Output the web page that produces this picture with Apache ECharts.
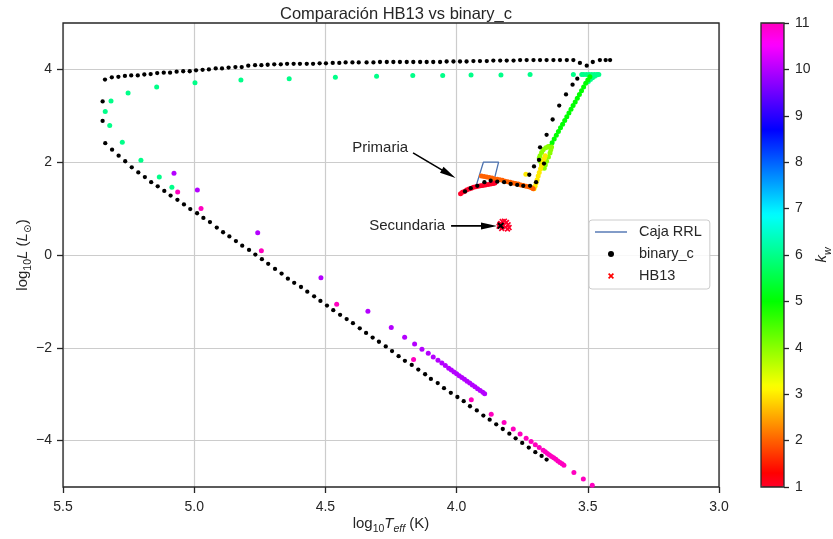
<!DOCTYPE html>
<html><head><meta charset="utf-8">
<script src="https://cdn.jsdelivr.net/npm/echarts@6/dist/echarts.min.js"></script>
<style>html,body{margin:0;padding:0;background:#fff}#c{width:833px;height:539px}</style>
</head><body><div id="c"></div>
<script>
// ---------- data ----------
const xTicks = [5.5, 5.0, 4.5, 4.0, 3.5, 3.0];
const yTicks = [-4, -2, 0, 2, 4];
const kwTicks = [1, 2, 3, 4, 5, 6, 7, 8, 9, 10, 11];

const rrlBox = [[3.925, 1.5], [3.862, 1.5], [3.840, 2.0], [3.898, 2.0], [3.925, 1.5]];

const binaryC = [
  [3.968,1.37],[3.946,1.44],[3.921,1.49],[3.894,1.57],[3.870,1.60],[3.845,1.58],[3.819,1.57],[3.794,1.53],[3.769,1.51],[3.746,1.49],[3.720,1.49],
  [3.697,1.57],[3.723,1.73],[3.705,1.91],[3.686,2.05],[3.667,1.97],[3.682,2.32],[3.657,2.59],[3.634,2.92],[3.609,3.22],[3.583,3.46],[3.558,3.67],[3.540,3.80],[3.530,4.14],[3.504,4.08],[3.481,4.16],[3.454,4.20],[3.432,4.20],[3.415,4.20],
  [3.555,4.20],[3.580,4.20],[3.606,4.20],[3.631,4.20],[3.657,4.20],[3.682,4.20],[3.707,4.20],[3.733,4.20],[3.758,4.20],[3.783,4.19],[3.809,4.19],[3.834,4.19],[3.860,4.19],[3.885,4.18],[3.911,4.18],[3.936,4.18],[3.962,4.17],[3.987,4.17],[4.012,4.17],[4.038,4.17],[4.063,4.16],[4.089,4.16],[4.114,4.16],[4.139,4.16],[4.165,4.16],[4.190,4.16],[4.216,4.16],[4.241,4.16],[4.266,4.16],[4.292,4.16],[4.317,4.15],[4.343,4.15],[4.373,4.15],[4.397,4.15],[4.423,4.15],[4.447,4.14],[4.472,4.14],[4.498,4.13],[4.522,4.13],[4.547,4.12],[4.571,4.12],[4.597,4.12],[4.621,4.12],[4.646,4.12],[4.670,4.11],[4.695,4.11],[4.720,4.10],[4.744,4.09],[4.768,4.09],[4.794,4.08],[4.819,4.05],[4.843,4.05],[4.869,4.04],[4.894,4.02],[4.918,4.02],[4.944,4.00],[4.968,3.99],[4.993,3.98],[5.017,3.96],[5.042,3.96],[5.067,3.95],[5.092,3.93],[5.116,3.93],[5.141,3.92],[5.166,3.90],[5.190,3.89],[5.215,3.87],[5.240,3.87],[5.264,3.86],[5.289,3.84],[5.314,3.83],[5.340,3.78],
  [5.349,3.31],[5.349,2.89],[5.339,2.41],[5.313,2.27],[5.288,2.14],[5.263,2.02],[5.238,1.89],[5.213,1.78],[5.188,1.68],[5.164,1.57],[5.139,1.48],[5.114,1.38],[5.090,1.28],[5.064,1.19],[5.039,1.09],[5.015,0.99],[4.989,0.90],[4.965,0.80],[4.940,0.71],[4.914,0.59],[4.890,0.49],[4.866,0.40],[4.841,0.30],[4.817,0.20],[4.791,0.11],[4.767,0.01],[4.742,-0.09],[4.718,-0.19],[4.692,-0.30],[4.667,-0.40],[4.643,-0.51],[4.619,-0.60],[4.593,-0.69],[4.569,-0.79],[4.543,-0.89],[4.519,-0.99],[4.494,-1.09],[4.470,-1.19],[4.444,-1.29],[4.419,-1.38],[4.395,-1.47],[4.369,-1.58],[4.345,-1.68],[4.320,-1.78],[4.296,-1.87],[4.270,-1.97],[4.246,-2.07],[4.221,-2.18],[4.197,-2.28],[4.171,-2.37],[4.146,-2.47],[4.120,-2.57],[4.098,-2.67],[4.072,-2.76],[4.048,-2.87],[4.022,-2.97],[3.997,-3.06],[3.973,-3.15],[3.949,-3.26],[3.923,-3.35],[3.898,-3.46],[3.874,-3.55],[3.849,-3.65],[3.824,-3.75],[3.799,-3.85],[3.775,-3.95],[3.750,-4.05],[3.725,-4.15],[3.700,-4.25],[3.676,-4.33],[3.657,-4.41]
];
const binaryCSecondary = [[3.832, 0.63]];

// HB13 tracks grouped by stellar type k_w
const hb13Kw1 = [[3.985,1.32],[3.978,1.35],[3.970,1.37],[3.962,1.40],[3.953,1.42],[3.944,1.44],[3.936,1.46],[3.927,1.47],[3.918,1.48],[3.909,1.49],[3.900,1.50],[3.890,1.51],[3.880,1.52],[3.870,1.53],[3.860,1.54],[3.854,1.55]];
const hb13Kw1Secondary = [[3.838,0.62],[3.832,0.68],[3.826,0.72],[3.818,0.73],[3.810,0.70],[3.804,0.65],[3.800,0.59],[3.806,0.56],[3.814,0.60],[3.822,0.64],[3.828,0.57],[3.835,0.66]];
const hb13Kw2 = [[3.905,1.70],[3.895,1.69],[3.885,1.68],[3.875,1.67],[3.865,1.66],[3.855,1.64],[3.845,1.63],[3.835,1.62],[3.825,1.61],[3.815,1.59],[3.805,1.58],[3.795,1.57],[3.785,1.55],[3.775,1.54],[3.765,1.53],[3.755,1.51],[3.745,1.50],[3.735,1.48],[3.725,1.47],[3.715,1.45],[3.708,1.43]];
const hb13Kw3 = [[3.705,1.43],[3.701,1.48],[3.697,1.55],[3.693,1.62],[3.689,1.70],[3.685,1.78],[3.680,1.86],[3.676,1.93],[3.671,2.00],[3.666,2.08],[3.662,2.14],[3.736,1.74]];
const hb13Kw4 = [[3.682,2.14],[3.676,2.21],[3.670,2.27],[3.660,2.31],[3.651,2.34],[3.638,2.33],[3.641,2.27],[3.644,2.20],[3.650,2.11],[3.657,2.02],[3.662,1.94],[3.666,1.87],[3.671,1.90],[3.676,1.94],[3.681,2.02],[3.685,2.09]];
const hb13Kw5 = [[3.644,2.34],[3.636,2.42],[3.628,2.50],[3.620,2.58],[3.612,2.66],[3.604,2.74],[3.596,2.82],[3.588,2.90],[3.580,2.98],[3.572,3.06],[3.564,3.14],[3.556,3.22],[3.548,3.30],[3.540,3.38],[3.532,3.46],[3.524,3.54],[3.516,3.62],[3.508,3.70],[3.500,3.77],[3.492,3.84]];
const hb13Kw6 = [[3.498,3.74],[3.490,3.78],[3.482,3.82],[3.474,3.85],[3.466,3.88],[3.458,3.89],[3.465,3.89],[3.475,3.89],[3.485,3.89],[3.495,3.89],[3.505,3.89],[3.515,3.89],[3.523,3.89],[3.555,3.89],[3.720,3.89],[3.831,3.88],[3.945,3.88],[4.053,3.87],[4.167,3.87],[4.305,3.85],[4.462,3.83],[4.638,3.80],[4.822,3.77],[4.997,3.71],[5.143,3.62],[5.252,3.49],[5.317,3.32],[5.339,3.09],[5.322,2.79],[5.274,2.43],[5.203,2.04],[5.133,1.68],[5.085,1.46]];
const hb13Kw10 = [[5.077,1.76],[4.988,1.40],[4.758,0.48],[4.517,-0.49],[4.338,-1.21],[4.249,-1.56],[4.198,-1.77],[4.160,-1.92],[4.132,-2.03],[4.108,-2.12],[4.089,-2.20],[4.071,-2.27],[4.056,-2.33],[4.043,-2.38],[4.030,-2.44],[4.020,-2.48],[4.010,-2.52],[4.000,-2.56],[3.990,-2.60],[3.980,-2.64],[3.970,-2.68],[3.960,-2.72],[3.950,-2.76],[3.940,-2.80],[3.930,-2.84],[3.920,-2.88],[3.910,-2.92],[3.900,-2.96],[3.893,-2.99]];
const hb13Kw11 = [[5.063,1.36],[4.974,1.00],[4.744,0.09],[4.457,-1.06],[4.164,-2.25],[3.944,-3.12],[3.868,-3.43],[3.819,-3.61],[3.784,-3.75],[3.758,-3.86],[3.735,-3.95],[3.716,-4.02],[3.700,-4.09],[3.685,-4.15],[3.670,-4.21],[3.662,-4.24],[3.654,-4.28],[3.646,-4.31],[3.638,-4.34],[3.630,-4.37],[3.622,-4.40],[3.614,-4.44],[3.606,-4.47],[3.598,-4.50],[3.591,-4.53],[3.553,-4.69],[3.517,-4.83],[3.483,-4.96]];

// annotations (data coords)
const annLabels = ['Primaria', 'Secundaria'];
const annTip = [[4.004, 1.66], [3.846, 0.627]];
const annTail = [[4.166, 2.20], [4.021, 0.627]];
const annTextPos = [[4.185, 2.31], [4.044, 0.63]];

// ---------- styling helpers ----------
const FF = '"Liberation Sans", Arial, "DejaVu Sans", sans-serif';
const TC = '#262626';
const XPATH = 'path://M0,2L2,0L5,3L8,0L10,2L7,5L10,8L8,10L5,7L2,10L0,8L3,5Z';
const LINEPATH = 'path://M0,0L32,0L32,1.4L0,1.4Z';

const gistStops = [[0,[1,0,0.16]],[0.03,[1,0,0]],[0.215,[1,1,0]],[0.4,[0,1,0]],[0.586,[0,1,1]],[0.77,[0,0,1]],[0.954,[1,0,1]],[1,[1,0,0.75]]];
function gist(t){
  for (let i=1;i<gistStops.length;i++){
    const [t1,c1]=gistStops[i], [t0,c0]=gistStops[i-1];
    if (t<=t1){ const f=(t-t0)/(t1-t0||1); const c=c0.map((v,k)=>Math.round(255*(v+(c1[k]-v)*f))); return 'rgb('+c.join(',')+')'; }
  }
  return 'rgb(255,0,191)';
}
const vmColors = Array.from({length:201},(_,i)=>gist(i/200));

const withKw = (arr, kw) => arr.map(p => [p[0], p[1], kw]);
const hb13Main = [].concat(withKw(hb13Kw6,6), withKw(hb13Kw10,10), withKw(hb13Kw11,11), withKw(hb13Kw5,5), withKw(hb13Kw4,4), withKw(hb13Kw3,3), withKw(hb13Kw2,2), withKw(hb13Kw1,1));
const hb13Data = hb13Main.map(v => ({value: v})).concat(withKw(hb13Kw1Secondary,1).map(v => ({value: v, symbol: XPATH, symbolSize: 6})));
const binaryData = binaryC.map(v => ({value: v})).concat(binaryCSecondary.map(v => ({value: v, symbol: XPATH, symbolSize: 7})));

const subStyle = (italic) => ({fontSize: 10.5, fontFamily: FF, color: TC, fontStyle: italic ? 'italic' : 'normal', lineHeight: 10, padding: [8,0,0,0], verticalAlign: 'top'});
const mainStyle = (italic) => ({fontSize: 15, fontFamily: FF, color: TC, fontStyle: italic ? 'italic' : 'normal', lineHeight: 16, verticalAlign: 'top'});
const richName = { r: mainStyle(false), i: mainStyle(true), s: subStyle(false), is: subStyle(true) };
const minus = v => (v < 0 ? '\u2212' + Math.abs(v) : String(v));

const chart = echarts.init(document.getElementById('c'), null, {renderer: 'canvas'});
chart.setOption({
  animation: false,
  backgroundColor: '#fff',
  title: {text: 'Comparación HB13 vs binary_c', left: 391, top: 1, textAlign: 'center',
    textStyle: {fontSize: 16.5, fontWeight: 'normal', color: TC, fontFamily: FF}},
  grid: [
    {left: 63, top: 23, width: 656, height: 464, show: true, borderColor: TC, borderWidth: 1.3, backgroundColor: 'transparent', z: 3, containLabel: false, outerBoundsMode: 'none'},
    {left: 761, top: 23, width: 23, height: 464, show: true, borderColor: TC, borderWidth: 1.3, backgroundColor: 'transparent', z: 10, containLabel: false, outerBoundsMode: 'none'}
  ],
  xAxis: [
    {type: 'value', gridIndex: 0, min: 3.0, max: 5.5, interval: 0.5, inverse: true,
     axisLine: {show: false, onZero: false}, axisTick: {show: true, length: 6, lineStyle: {color: TC, width: 1.3}},
     axisLabel: {color: TC, fontSize: 14, fontFamily: FF, margin: 13, formatter: v => v.toFixed(1)},
     splitLine: {show: true, lineStyle: {color: '#cccccc', width: 1.2}},
     name: '{r|log}{s|10}{i|T}{is|eff}{r| (K)}', nameLocation: 'middle', nameGap: 29, nameMoveOverlap: false,
     nameTextStyle: {rich: richName}},
    {type: 'value', gridIndex: 1, min: 0, max: 1, show: false}
  ],
  yAxis: [
    {type: 'value', gridIndex: 0, min: -5, max: 5, interval: 1,
     axisLine: {show: false, onZero: false}, axisTick: {show: true, length: 6, customValues: yTicks, lineStyle: {color: TC, width: 1.3}},
     axisLabel: {color: TC, fontSize: 14, fontFamily: FF, margin: 11, customValues: yTicks, formatter: minus},
     splitLine: {show: true, lineStyle: {color: '#cccccc', width: 1.2}},
     name: '{r|log}{s|10}{i|L}{r| (}{i|L}{s|\u2299}{r|)}', nameLocation: 'middle', nameGap: 32, nameRotate: 90, nameMoveOverlap: false,
     nameTextStyle: {rich: richName}},
    {type: 'value', gridIndex: 1, min: 1, max: 11, interval: 1, position: 'right', z: 10,
     axisLine: {show: false, onZero: false}, axisTick: {show: true, length: 5, lineStyle: {color: TC, width: 1.3}},
     axisLabel: {color: TC, fontSize: 14, fontFamily: FF, margin: 11},
     splitLine: {show: false},
     name: '{i|k}{is|w}', nameLocation: 'middle', nameGap: 30, nameRotate: 90,
     nameTextStyle: {rich: richName}}
  ],
  visualMap: {type: 'continuous', min: 1, max: 11, dimension: 2, seriesIndex: 1,
    inRange: {color: vmColors}, left: 761, top: 23, itemWidth: 23, itemHeight: 464,
    padding: 0, calculable: false, hoverLink: false, text: null, show: true, z: 4},
  legend: {orient: 'vertical', left: 589, top: 220, padding: [4, 8, 5, 6], itemWidth: 32, itemHeight: 6, itemGap: 6,
    backgroundColor: 'rgba(255,255,255,0.85)', borderColor: '#cccccc', borderWidth: 1, borderRadius: 3,
    textStyle: {fontSize: 14.5, color: TC, fontFamily: FF, lineHeight: 16, padding: [0, 0, 0, 7]},
    data: [{name: 'Caja RRL', icon: LINEPATH}, {name: 'binary_c', icon: 'circle'}, {name: 'HB13', icon: XPATH}]},
  series: [
    {name: 'Caja RRL', type: 'line', xAxisIndex: 0, yAxisIndex: 0, data: rrlBox, symbol: 'none',
     lineStyle: {color: '#4c72b0', width: 1.3}, itemStyle: {color: '#4c72b0'}, z: 2},
    {name: 'HB13', type: 'scatter', xAxisIndex: 0, yAxisIndex: 0, data: hb13Data, symbolSize: 5,
     itemStyle: {color: '#ff0000', opacity: 1}, encode: {x: 0, y: 1}, z: 3},
    {name: 'binary_c', type: 'scatter', xAxisIndex: 0, yAxisIndex: 0, data: binaryData, symbolSize: 4.3,
     itemStyle: {color: '#000000', opacity: 1}, z: 4}
  ]
});

function arrowPts(p0, p1, headLen, headW, shaftW) {
  const dx = p1[0]-p0[0], dy = p1[1]-p0[1], L = Math.hypot(dx, dy);
  const ux = dx/L, uy = dy/L, nx = -uy, ny = ux;
  const bx = p1[0]-ux*headLen, by = p1[1]-uy*headLen;
  return [[p0[0]+nx*shaftW/2, p0[1]+ny*shaftW/2], [bx+nx*shaftW/2, by+ny*shaftW/2], [bx+nx*headW/2, by+ny*headW/2], p1,
          [bx-nx*headW/2, by-ny*headW/2], [bx-nx*shaftW/2, by-ny*shaftW/2], [p0[0]-nx*shaftW/2, p0[1]-ny*shaftW/2]];
}
const g = [];
annLabels.forEach((t, i) => {
  const tip = chart.convertToPixel({gridIndex: 0}, annTip[i]);
  const tail = chart.convertToPixel({gridIndex: 0}, annTail[i]);
  const tp = chart.convertToPixel({gridIndex: 0}, annTextPos[i]);
  g.push({type: 'polygon', z: 20, shape: {points: arrowPts(tail, tip, 16, 7, 1.6)}, style: {fill: '#000'}});
  g.push({type: 'text', z: 20, x: tp[0], y: tp[1], style: {text: t, fill: TC, fontSize: 15, fontFamily: FF,
    align: 'right', verticalAlign: 'middle', textAlign: 'right', textVerticalAlign: 'middle'}});
});
chart.setOption({graphic: g});
</script>
</body></html>
